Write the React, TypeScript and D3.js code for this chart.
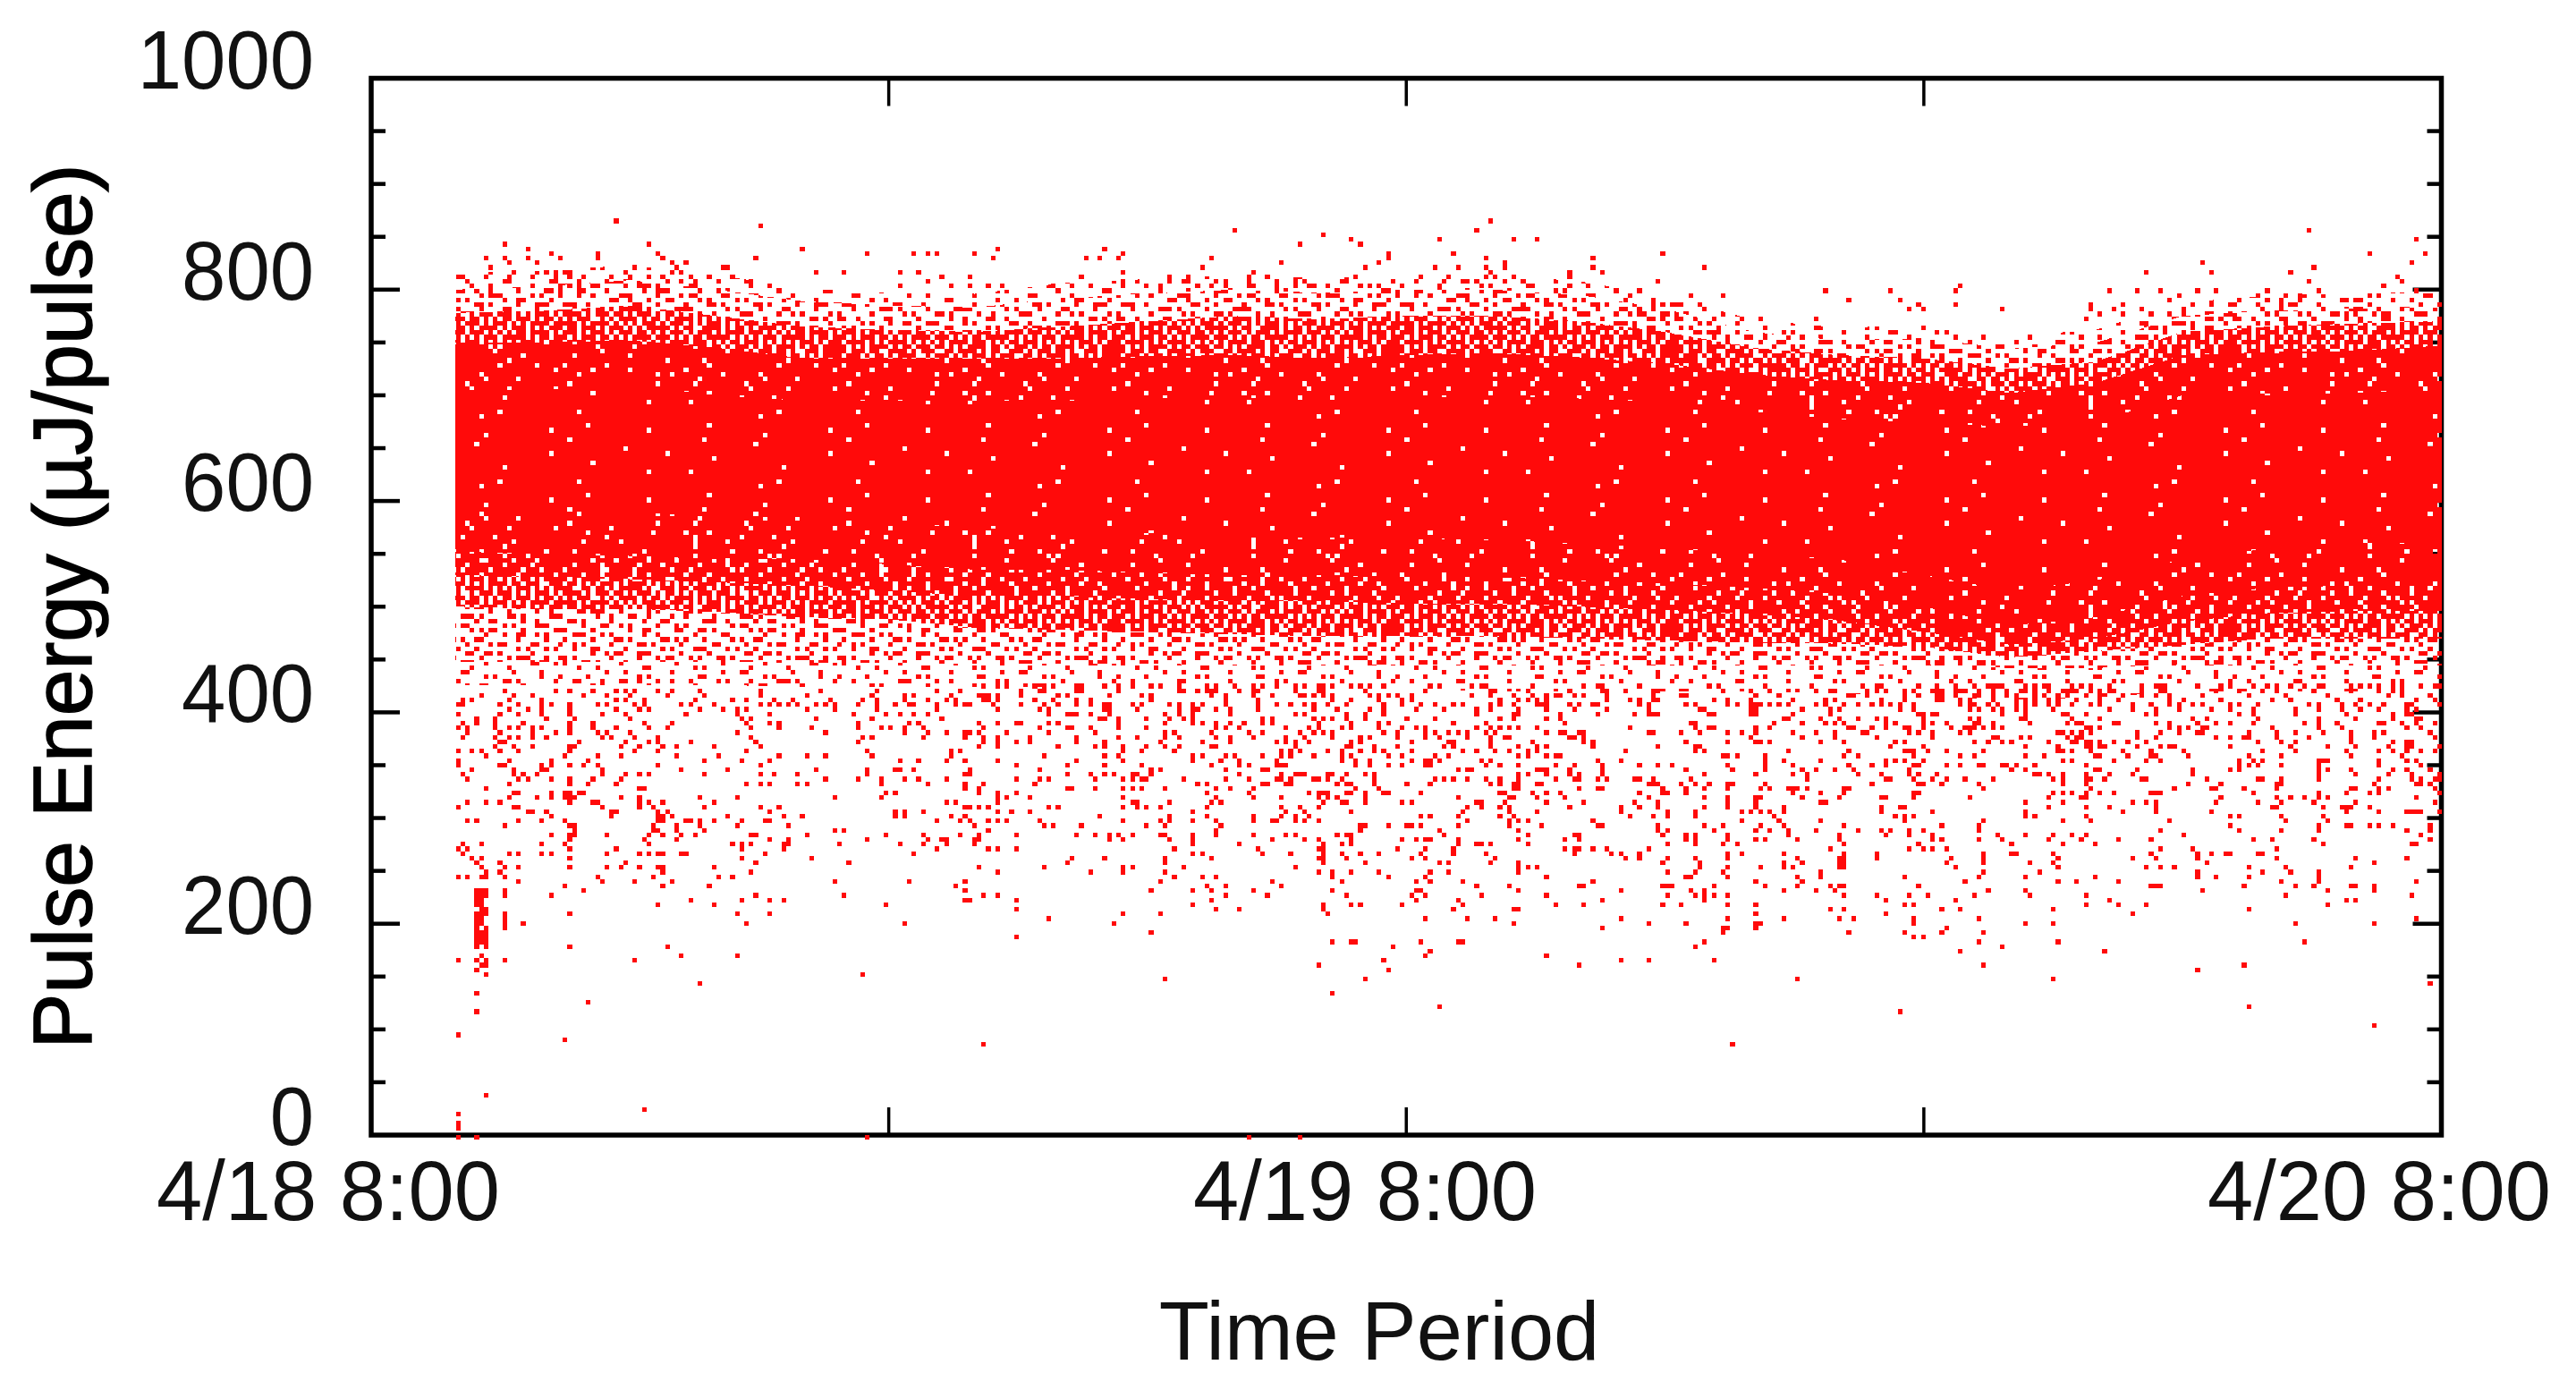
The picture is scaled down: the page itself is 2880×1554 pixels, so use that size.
import React, { useMemo } from "react";
import * as d3 from "d3";

const yTicksMajor = [0, 200, 400, 600, 800, 1000];
const yTicksMinor = [50, 100, 150, 250, 300, 350, 450, 500, 550, 650, 700, 750, 850, 900, 950];
const xTicks = [12, 24, 36];
const xLabels = ["4/18 8:00", "4/19 8:00", "4/20 8:00"];

// envelope of the dense cloud, per time step (hours since 4/18 8:00)
const hours = [1.95, 4, 6, 8, 10, 12, 14, 16, 18, 20, 22, 24, 26, 28, 30, 32, 34, 36, 38, 40, 42, 44, 46, 48];
const fringeCap = [816, 818, 823, 814, 801, 797, 796, 806, 810, 814, 811, 814, 814, 808, 794, 772, 764, 766, 756, 762, 788, 794, 797, 798];
const fringeTop = [800, 803, 809, 800, 789, 785, 783, 792, 796, 800, 797, 800, 800, 795, 782, 760, 752, 754, 744, 750, 775, 780, 782, 783];
const upperMid = [778, 780, 785, 775, 765, 762, 760, 765, 770, 775, 772, 775, 775, 770, 760, 745, 738, 735, 725, 732, 760, 765, 768, 770];
const coreTop = [750, 750, 752, 745, 735, 735, 735, 735, 737, 738, 735, 738, 740, 736, 730, 720, 714, 712, 702, 712, 738, 741, 742, 747];
const innerTop = [705, 705, 710, 700, 695, 695, 695, 695, 697, 698, 695, 697, 700, 697, 693, 685, 677, 675, 670, 675, 700, 702, 702, 705];
const innerBot = [590, 590, 590, 585, 585, 580, 575, 570, 570, 565, 565, 565, 563, 560, 555, 550, 545, 530, 515, 525, 545, 555, 560, 560];
const coreBot = [552, 550, 548, 545, 545, 540, 535, 535, 532, 530, 530, 528, 528, 525, 522, 518, 512, 500, 482, 490, 510, 518, 520, 520];
const lowHeavy = [530, 528, 526, 523, 520, 515, 510, 510, 507, 505, 505, 503, 503, 500, 497, 493, 487, 476, 464, 470, 486, 494, 496, 496];
const lowMid = [500, 498, 498, 495, 490, 488, 480, 478, 476, 474, 472, 472, 472, 470, 468, 466, 465, 462, 452, 458, 464, 470, 470, 470];
const lowEnd = [448, 448, 448, 448, 447, 447, 446, 446, 446, 445, 445, 445, 445, 445, 445, 445, 445, 445, 442, 442, 445, 446, 446, 446];
const lowCap = [426, 426, 426, 426, 424, 424, 424, 424, 422, 422, 422, 422, 420, 420, 420, 420, 418, 415, 412, 414, 420, 420, 420, 420];

// points read by eye from the crops: [energy, [hours...]]
type Row = [number, number[]];
const scatterTop: Row[] = [
  [868, [5.6, 25.9]], [864, [8.95]], [859, [20, 25.55, 44.85]], [855, [22]],
  [851, [22.7, 24.7, 26.4, 26.95, 47.4]], [846, [3, 6.4, 21.5, 22.9]], [842, [3.6, 9.9, 14.5, 17]],
  [838, [4.1, 5.2, 6.6, 11.5, 12.5, 12.9, 13.1, 13.9, 17.4, 23.5, 25, 29.85, 46.3, 47.6]],
  [833.5, [2.6, 3, 3.6, 4.35, 5.2, 6.7, 8.85, 14.4, 16.5, 16.8, 17.3, 19.45, 23.5, 25.75, 28.25]],
  [829, [3.2, 3.8, 6.9, 7.25, 21.05, 23.3, 26.2, 42.35, 47.3]],
  [825, [2.75, 6.05, 7, 8.15, 8.25, 19.2, 23, 24.6, 25.1, 25.75, 26.2, 28.3, 30.9, 44.95]],
  [820, [3.25, 4.25, 4.55, 6.95, 7.1, 10.25, 10.9, 12.25, 12.6, 17.4, 20.4, 25.9, 27.7, 28.45, 41.1, 42.6, 44.5]],
  [816, [2.65, 3.7, 4.2, 4.55, 6, 6.7, 7.35, 8.3, 13.2, 13.8, 16.45, 18.5, 18.9, 20.3, 20.75, 22.8, 26, 26.4, 27.7, 46.9]],
  [811.5, [4.1, 5.4, 7.15, 7.45, 8.75, 12.9, 17.4, 18.5, 19.55, 20.3, 21.4, 22.55, 24.15, 24.8, 25.55, 26.2, 26.65, 29.75, 44.85, 47.05]],
  [807, [2.75, 4.35, 4.55, 4.75, 5.85, 6.2, 6.4, 7.45, 12.25, 13.35, 13.8, 14.3, 14.6, 15.8, 16.15, 17.95, 19.1, 19.8, 20.3, 20.95, 21.4, 21.8, 22.9, 23.3, 25.65, 27.7, 28.15, 36.8, 46.65]],
  [803, [33.7, 35.2, 36.7, 40.2, 40.9, 41.4, 42.3, 42.7, 43.9, 45.15, 47.4, 29.4]],
  [798, [30.55, 31.25, 41.9, 43.65, 44.3, 44.7, 46.55]],
  [794, [34.2, 35.4, 41.7, 43.3, 44.7, 46, 46.1]],
  [789.5, [29.85, 30.3, 30.8, 35.85, 36.7, 39.8, 40.55, 42.2, 43.2, 43.65, 44.2]],
  [785, [29.3, 35.65, 35.95, 37.75, 39.8, 40.3, 41, 44.2, 46.05, 46.45]],
  [781, [29.1, 29.5, 29.85, 40, 40.55, 41.2, 41.7, 42, 43, 44.1, 44.85, 46, 46.6, 47.5]],
  [776.6, [31.75, 32.2, 33.45, 39.7]],
];
const scatterEarly: Row[] = [
  [430, [2, 3.2, 3.4, 4.8, 5.3, 5.7, 6.2, 6.6, 6.9, 7.4, 8.8, 9.4, 9.6, 9.8, 12.4, 13.1]],
  [421, [3, 4.2, 4.6, 5.1, 5.6, 5.8, 6.1, 6.6, 6.9, 7.6, 9, 10.4, 11.7, 13.05, 13.6]],
  [417, [2.5, 3.3, 3.7, 4.9, 5.4, 6, 6.8, 7.7, 8.95, 10.05, 11.55, 12.3, 12.5, 13.4]],
  [413, [2.1, 2.3, 3.2, 3.9, 5.65, 5.85, 6.3, 7.45, 8.3, 8.65, 9.3, 9.7, 10.6, 11.3, 11.65, 12.3, 12.85, 13.25, 13.5]],
  [408.6, [2, 2.1, 2.9, 3.4, 3.9, 4.15, 4.5, 4.6, 5.15, 5.4, 6.1, 6.3, 7.1, 7.35, 7.9, 8.95, 9.2, 9.4, 9.6, 9.85, 10.25, 10.5, 10.7, 11.2, 11.65, 12.1, 12.4, 12.5, 13.05, 13.5, 13.7]],
  [404, [3.2, 3.6, 3.9, 4.6, 5.65, 6.2, 6.4, 7.55, 8.1, 8.45, 8.65, 10.05, 10.7, 11.65, 13.05]],
  [400, [2, 2.9, 3.4, 3.9, 4.6, 5.3, 5.85, 7.25, 8.45, 9.2, 11.1, 11.85, 12.2, 12.5, 12.85]],
  [395.5, [2.4, 2.8, 4, 4.7, 6, 8.55, 8.75, 10.25, 11.55, 13.15]],
  [391, [2.1, 2.4, 2.8, 3.5, 4.5, 5.1, 6.3, 6.9, 8.65, 9.2, 9.4, 11.2, 12.4, 12.6]],
  [386.6, [2, 2.2, 2.8, 3.2, 3.4, 3.7, 3.9, 4.6, 5.1, 5.65, 6.4, 6.8, 8.75, 9.4, 10.15, 11.2, 11.75, 11.95, 12.3, 12.7]],
  [382, [2.2, 2.9, 3.7, 4.25, 4.6, 5.2, 5.4, 6, 8.45, 10.5, 12.3, 12.85, 13.25, 13.7]],
  [378, [2.1, 2.8, 3.1, 3.4, 3.7, 4, 5.3, 5.5, 6.1, 6.6, 8.75, 11.3, 11.55, 12.7, 13.7]],
  [373.5, [2.9, 3, 4.8, 5.85, 6.4, 6.6, 7.35, 8.85, 11.2]],
  [369, [2.8, 3.3, 3.7, 4.5, 4.7, 5.75, 6.2, 6.7, 7.05, 7.9, 8.95]],
  [364.6, [2, 2.3, 2.5, 2.9, 3.4, 4.6, 6.1, 6.6, 8.65, 11.4, 13.35, 13.6]],
  [360, [2.6, 4.4, 5.2, 5.75, 7.05, 8, 9.4, 10.05, 10.5, 11.55, 13.35]],
  [356, [2, 3.2, 4.15, 5, 7.7, 8.55, 9.2, 12.2, 12.6, 13.25, 13.7]],
  [351.3, [2, 2.9, 3, 3.85, 4.15, 4.5, 4.9, 5.2, 6.6, 8.95]],
  [347, [2.3, 3.3, 3.9, 4, 5.3, 7.15, 8.2, 10.25, 11.4, 12.1, 12.2, 12.5]],
  [342.6, [2.1, 3.3, 3.5, 3.8, 5.3, 5.85, 6.2, 6.4, 7.7, 8.95, 9.3, 9.85, 11.4, 13.75]],
  [338, [2.2, 3.4, 3.6, 4.15, 4.5, 5.1, 5.75, 10.5, 11.2, 11.75, 12.3, 12.6, 13.25]],
  [334, [3.2, 4.5, 5, 5.65, 8.65, 8.95, 9.2, 9.85, 10.05, 11.75, 12.85, 13.7]],
  [329.7, [2.6, 6.2, 6.3, 13.7]],
  [325, [3.3, 3.4, 4.15, 4.4, 4.5, 4.8, 4.9, 11.85, 12.1]],
  [321, [3.2, 3.8, 4.15, 4.4, 4.5, 4.7, 5.75, 6.2, 7.55, 8.45, 10.7, 11.75]],
  [316.4, [2.2, 2.6, 2.9, 4.6, 5.1, 5.2, 6.2, 6.4, 6.7, 7.9, 13.25, 13.5]],
  [312, [2, 3.3, 3.4, 5.3, 6.2, 6.5, 7.7, 8.95, 9.4, 13.7]],
  [307.7, [3.6, 3.7, 4, 5.5, 5.65, 6.6, 6.8, 9.2, 12.1, 12.3, 12.7]],
  [303, [4.15, 5.5, 6.6, 6.7, 6.9, 8.2, 9.5, 9.95, 12.1, 12.3, 13.35, 13.7]],
  [299, [2.2, 2.4, 3.4, 3.9, 4.4, 6.6, 6.7, 7.25, 7.35, 7.55, 7.9, 8.55, 9.05, 9.2, 13.05, 13.6]],
  [294.4, [3, 4.6, 4.7, 6.5, 7.05, 7.55, 8.45, 9.6]],
  [290, [4.7, 6.5, 6.6, 7.05, 7.7, 10.7, 10.9]],
  [285.7, [4.15, 4.5, 4.6, 4.7, 5.4, 6.4, 6.7, 7.15, 7.45, 8.75, 8.85, 10.05, 11.85, 12.7, 13.6]],
  [281.5, [4.5, 4.6, 6.3, 7.05, 9.2, 9.6, 11.4, 12.85, 13.15, 13.25]],
  [277, [2.1, 2.5, 3.9, 4.4, 6.4, 8.3, 8.55, 8.75, 9.5, 9.6, 10.8, 12.2, 12.7, 13.25]],
  [272.7, [2, 2.2, 4.6, 5.65, 8.55, 9.5, 13.05]],
  [268, [2.1, 3.2, 3.4, 3.9, 4.15, 5.4, 6.2, 6.4, 6.6, 6.7, 7.15, 7.25, 9.05, 12.5]],
  [264, [2.3, 2.5, 4.6, 8.55, 10.15]],
  [259.5, [2.4, 2.9, 5.85, 8.85, 11]],
  [255, [2.5, 3, 3.4, 4.5, 5.4, 5.75, 6.2, 6.6, 6.7, 7.9]],
  [250.7, [2.6, 2.9, 6.7, 8.75]],
  [246.5, [2, 2.2, 2.5, 2.6, 3, 5.2, 6.5, 8, 8.3]],
  [242, [3.4, 5.3, 6.1, 6.9, 10.7, 12.4, 13.7]],
  [237.8, [4.4, 6.7, 7.8, 13.5]],
  [233.3, [2.4, 2.5, 2.6, 3, 4.9, 13.7]],
  [229, [2.4, 2.5, 2.6, 3, 4.15, 8.85, 10.9]],
  [224.5, [2.4, 2.5, 7.35, 8.55, 9.2, 9.5, 13.75]],
  [220, [2.4, 2.5, 6.6, 7.9, 11.85]],
  [215.8, [2.5, 2.6]],
  [211.6, [2.4, 2.5, 2.6, 3, 4.6, 8.45, 9.2]],
  [207, [2.4, 2.5, 3]],
  [202.5, [2.4, 2.5, 3, 3.5, 8.65, 12.3]],
  [198, [2.4, 2.6, 3]],
  [193.8, [2.4, 2.5, 2.6]],
  [189.6, [2.4, 2.5, 2.6]],
  [185, [2.4, 2.5, 2.6]],
  [180.5, [2.4, 2.6, 4.5, 6.8]],
  [171.8, [2.5, 7.15, 8.45]],
  [167.6, [2, 2.4, 2.6, 3, 6.1]],
  [163, [2.5, 2.6]],
  [159, [2.4]],
  [154, [2.6, 11.3]],
  [145.6, [7.55]],
  [137, [2.4]],
  [128, [5]],
  [119, [2.4]],
  [97, [2]],
  [93, [4.4]],
  [40.5, [2.6]],
  [27.5, [6.3]],
  [23, [2]],
  [15, [2]],
  [11, [2]],
  [7, [2]],
  [2, [2, 2.43, 11.5, 20.3, 21.5]],
];
const scatterMid: Row[] = [
  [426, [14.2, 14.45, 14.65, 15.3, 15.5, 15.8, 16.3, 16.4, 17, 17.3, 17.65, 18.7, 19.55, 19.95, 20.65, 20.9, 21.4, 21.95, 22.25, 22.7, 22.9, 23.1, 23.45, 25.45, 25.7]],
  [421, [15.05, 15.4, 15.6, 16.35, 16.45, 17.3, 18.7, 18.8, 19.15, 19.35, 19.45, 19.55, 20.1, 20.45, 20.55, 21.4, 21.95, 22.05, 24.4, 23, 25.9, 26]],
  [417, [14, 14.1, 14.3, 14.5, 15.05, 15.9, 16.05, 17.1, 17.85, 18.05, 19.45, 19.8, 20.45, 20.85, 21.5, 21.6, 21.8, 22.05, 22.25, 23.1, 23.3, 23.55, 23.75, 24.05, 25.45, 25.9]],
  [413, [14.1, 14.3, 14.5, 15.3, 15.8, 16.35, 16.6, 18.05, 19.8, 20.55, 22.25, 22.7, 23.3, 23.85, 24.05, 26.1]],
  [408.6, [13.8, 14.4, 15.05, 15.5, 15.9, 16.35, 16.6, 17, 17.1, 17.55, 17.85, 18.5, 18.7, 19.05, 19.25, 19.8, 20.55, 20.95, 21.3, 21.6, 21.8, 22.15, 22.55, 23.45, 23.85, 24.3, 24.6, 25.05, 25.25, 25.9, 26.1]],
  [404, [14.5, 15.4, 15.7, 16.9, 17.1, 17.75, 18.7, 18.95, 19.15, 19.55, 19.9, 20.55, 21.8, 22.35, 23.1, 23.45, 24.2, 24.8, 25.6, 25.9]],
  [400, [15.7, 16.05, 16.15, 16.35, 16.6, 17.1, 18.3, 18.7, 19.05, 19.9, 21.4, 21.6, 22.55, 23, 23.45, 25.6]],
  [395.5, [16.8, 17, 17.3, 17.95, 18.5, 18.8, 19.05, 20.65, 20.85, 21.8, 22.05, 22.25, 22.55, 23, 23.95, 24.6, 26.1]],
  [391, [14, 14.5, 14.85, 15.05, 15.7, 15.9, 17.3, 18.3, 18.95, 19.25, 19.55, 19.9, 20.2, 20.65, 20.85, 21.95, 22.7, 23.3, 23.55, 25.05, 25.8]],
  [386.6, [14.2, 15.4, 16.05, 16.25, 16.6, 17.3, 17.95, 19.55, 19.8, 20.1, 21.2, 21.7, 21.95, 22.45, 22.7, 23.3, 23.85, 24.2, 24.4, 25.6, 25.9, 26.1]],
  [382, [13.8, 14, 14.65, 15.7, 16.7, 18.4, 18.6, 19.45, 20.3, 20.65, 21.5, 21.8, 22.05, 22.25, 23.45, 23.75, 24.4, 24.6, 24.95, 25.15, 25.35, 25.8, 26]],
  [378, [14.1, 14.45, 15.2, 16.35, 17.3, 17.75, 18.4, 18.7, 19.55, 19.9, 20.45, 21.2, 21.6, 22.25, 22.9, 23.1, 23.75, 24.4, 24.7, 25.35, 25.9]],
  [373.5, [14.1, 14.5, 14.85, 15.2, 16.35, 16.9, 17, 18.2, 19.25, 19.9, 20.95, 21.2, 21.4, 21.7, 22.7, 22.9, 24.05, 24.95, 25.05, 25.9]],
  [369, [14, 14.5, 15.9, 16.7, 16.9, 17.4, 17.95, 18.4, 18.7, 19.45, 19.55, 21.4, 22.55, 22.7, 23.2, 23.75, 24.8, 25.05, 25.9]],
  [364.6, [17.4, 17.85, 18.6, 21.05, 21.3, 21.5, 22.15, 22.45, 22.9, 23.2, 23.45, 24.05, 25.25, 25.6, 26]],
  [360, [15.6, 16.9, 17.3, 19.05, 19.25, 19.8, 20, 20.65, 21.05, 21.3, 21.8, 22.45, 22.7, 23.55, 23.85, 24.6, 24.95]],
  [356, [14.5, 16.35, 17.4, 19.05, 19.7, 20.1, 20.95, 22.45, 22.8, 23.1, 24.05, 24.4, 24.5, 24.7, 25.7, 25.9]],
  [351.3, [14.85, 16.05, 16.9, 17.85, 19.45, 20.1, 20.3, 20.95, 21.05, 21.2, 22.8, 23.1, 23.55, 23.85, 24.4, 24.5, 25.8, 26.1]],
  [347, [13.8, 15.4, 18.05, 18.2, 19.8, 20.65, 20.75, 25.15, 25.35, 25.45]],
  [342.6, [13.8, 16.05, 16.6, 16.9, 17.2, 17.65, 17.75, 18.05, 20.1, 21.05, 21.4, 21.5, 21.6, 22.15, 22.25, 22.55, 23, 23.2]],
  [338, [14.85, 15.4, 15.7, 16.7, 17.4, 17.55, 17.85, 17.95, 18.8, 19.8, 20.3, 20.95, 21.05, 21.3, 21.8, 21.95, 22.15, 22.45, 23.2, 24.6, 24.8, 25.05, 25.35, 25.8, 26.1]],
  [334, [14.2, 15.3, 19.15, 19.35, 20.65, 20.75, 21.2, 21.3, 22.35, 22.55, 22.7, 23.2, 23.95, 24.5, 25.9, 26.1]],
  [329.7, [14, 16.05, 16.15, 16.7, 17.4, 17.65, 17.85, 18.3, 18.4, 19.55, 19.9, 20.45, 22.8, 23.3]],
  [325, [14, 14.5, 14.85, 19.35, 20.3, 21.7, 21.95, 22.05, 22.15, 22.55, 22.7, 23, 23.45, 23.55, 24.3, 26.1]],
  [321, [14.45, 14.65, 15.2, 17.4, 19.55, 20.45, 21.05, 21.95, 22.15, 22.35, 23, 25.15]],
  [316.4, [14.45, 17.65, 17.75, 18.5, 19.45, 19.7, 22.05, 22.45, 22.55, 23, 23.85, 24.05, 25.6, 25.7]],
  [312, [13.8, 14, 14.3, 15.7, 15.9, 17.4, 17.75, 17.95, 18.2, 19.35, 21.05, 21.5, 21.95, 25.35, 25.7, 26.1]],
  [307.7, [14.45, 14.5, 14.75, 15.2, 18.95, 19.05, 21.2, 21.6, 22.7, 25.25]],
  [303, [16.8, 18.5, 19.35, 20.45, 21.05, 21.4, 21.7, 24.3, 24.5, 25.15, 26.1]],
  [299, [13.8, 14.3, 14.45, 14.65, 15.4, 17.4, 18.2, 18.5, 19.05, 19.55, 20.45, 20.85, 20.95, 21.4, 21.6, 21.95, 25.35]],
  [294.4, [13.9, 15.6, 15.8, 16.45, 17.95, 18.4, 19.7, 22.9, 23, 23.55, 23.95, 24.05, 24.3, 25.15]],
  [290, [14.3, 19.55, 22.9, 24.7]],
  [285.7, [14, 14.95, 16.35, 16.7, 17.1, 17.3, 17.55, 18.2, 18.3, 19.05, 19.55, 20.45, 21.2, 21.4, 22.35, 22.55, 22.7, 24.8]],
  [281.5, [13.9, 14, 17.1, 17.4, 18.5, 18.95, 20.85, 21.6, 21.95, 22.7, 23.85, 24.2, 24.4, 24.5, 25.15]],
  [277, [13.9, 19.05, 20.1, 22.05, 22.45, 22.7, 25.15, 25.6, 25.7, 25.9]],
  [272.7, [14.3, 14.5, 14.85, 18.6, 20.55, 21.95, 22.05, 23.75, 24.4, 25.05]],
  [268, [19.05, 19.25, 20.65, 21.3, 22.05, 22.45, 22.9, 23.3, 24.3, 25.05, 25.8]],
  [264, [16.15, 16.9, 18.4, 19.45, 21.95, 22.05, 22.55, 24.05, 24.4, 26]],
  [259.5, [16.05, 18.4, 22.05, 23, 24.7, 24.95, 25.9]],
  [255, [14, 15.5, 17.4, 17.65, 18.8, 21.4]],
  [250.7, [14.5, 16.6, 17.4, 18.4, 21.95, 22.25, 22.7, 23.3, 24.5, 24.95]],
  [246.5, [18.6, 19.25, 19.55, 22.25, 23.55, 24.4]],
  [242, [18.2, 20.85, 22.45, 24.2, 24.5, 25.25]],
  [237.8, [19.35, 19.8, 21.05, 25.6]],
  [233.3, [18.05, 19.05, 19.45, 20.45, 22.25, 24.2, 24.3]],
  [229, [14.1, 14.5, 19.8, 20.75, 22.55, 24.05, 24.4, 25.7]],
  [224.5, [13.8, 14.95, 19.45, 24.2, 25.15]],
  [220, [19.05, 22.05, 22.7, 22.9, 23.85, 25.25]],
  [215.8, [14.85, 19.55, 20.1, 22.05, 25.05]],
  [211.6, [17.4, 18.2, 22.15]],
  [207, [15.7, 24.4, 25.35, 26]],
  [202.5, [17.2]],
  [193.8, [18.05]],
  [189.6, [14.85]],
  [185, [22.25, 22.7, 22.8, 24.3, 25.15, 25.25]],
  [180.5, [23.65]],
  [176, [24.5]],
  [171.8, [24.4]],
  [167.6, [23.45]],
  [163, [21.95]],
  [159, [23.55]],
  [150, [18.4, 23]],
  [137, [22.25]],
  [123.6, [24.7]],
  [88.6, [14.2]],
];
const scatterLate: Row[] = [
  [421.5, [26.75, 27.7, 28.45, 28.65, 29, 29.65, 29.75, 31.25, 31.9, 32.4, 33.5, 33.8, 34.65, 34.9, 35.5, 35.75]],
  [417, [26.4, 26.85, 27.25, 27.4, 27.5, 27.8, 28.1, 28.55, 29.65, 30.3, 30.4, 32, 32.1, 32.6, 34.25, 34.35, 34.65, 35.5, 35.85]],
  [413, [26.5, 26.75, 26.95, 27.15, 28.55, 29.1, 29.4, 29.65, 29.75, 31.1, 31.35, 31.9, 32.95, 33.7, 33.9, 35, 35.5]],
  [408.6, [26.4, 26.95, 27.05, 27.25, 27.7, 27.9, 28.25, 28.35, 29.3, 29.55, 30.4, 30.6, 31.35, 31.65, 31.9, 32, 32.2, 32.4, 32.6, 32.85, 33.5, 33.7, 34.1, 34.45, 34.75, 35, 35.2, 35.4, 35.75]],
  [404, [26.6, 27.25, 27.8, 28.55, 29.55, 30.8, 30.9, 31.9, 32, 33.15, 33.8, 34, 35.4, 35.75]],
  [400, [26.5, 26.4, 27.5, 28.35, 29.2, 29.55, 29.65, 29.75, 31, 31.1, 31.9, 32, 32.95, 33.8, 35.85, 35.95]],
  [395.5, [26.4, 27.15, 27.25, 27.5, 32.75, 32.85, 33.6, 34, 34.45, 34.9, 35.1, 35.95]],
  [391, [27.6, 30.5, 30.7, 32.5, 33.15, 33.7, 33.9, 34.1, 35.1, 35.3, 35.95]],
  [386.6, [26.3, 26.6, 26.95, 29.1, 30.6, 31, 31.1, 32.1, 32.4, 34.25, 34.35, 34.75, 35.1, 35.5, 35.65, 35.95]],
  [382, [27.15, 27.5, 27.6, 28, 28.1, 29.55, 29.65, 30.3, 30.8, 31.35, 31.75, 32, 32.95, 33.4, 33.5, 33.9, 34.55, 34.65, 35.65, 35.85]],
  [378, [26.2, 26.3, 27.7, 27.8, 28.1, 31.9, 33.15, 33.9, 34.9]],
  [373.5, [26.85, 28.1, 28.25, 30.4, 31.35, 32, 32.1, 32.2, 32.4, 33.6, 34.1, 35.3, 35.5]],
  [369, [26.5, 26.6, 26.95, 27.15, 28.25, 29.75, 30.6, 30.8, 35.2, 35.95]],
  [364.6, [26.3, 26.75, 26.95, 29, 30.6, 30.9, 32.85, 34.25, 35.5, 35.65, 35.75]],
  [360, [26.6, 26.75, 27.15, 27.4, 27.5, 31.25, 31.35, 31.65, 32.3, 34.1, 34.45, 35.75]],
  [356, [28.35, 28.9, 32.3, 32.75, 33.6, 35.1, 35.3, 35.5, 35.95]],
  [351.3, [26.6, 27.4, 27.8, 28.45, 29.3, 29.75, 30.15, 31.45, 32.3, 32.95, 34.25, 34.75, 35.1, 35.75, 35.85]],
  [347, [26.95, 27.05, 27.25, 27.7, 28.45, 30.4, 31.55, 32.3, 33.15, 33.5, 33.9, 34.35, 35.65]],
  [342.6, [26.5, 26.75, 27.15, 27.7, 28, 28.45, 30.9, 32.1, 32.95, 33.25, 34.45, 35, 35.65, 35.85]],
  [338, [26.6, 27.4, 27.8, 28, 28.35, 28.65, 29.2, 29.3, 29.65, 30.5, 33.25, 35.1, 35.2, 35.75]],
  [334, [26.4, 26.6, 26.95, 27.05, 29.55, 29.65, 29.75, 30.3, 30.7, 31, 31.35, 31.55, 32.3, 34.75, 35.85, 35.95]],
  [329.7, [26.4, 26.6, 27.9, 28.35, 28.45, 29.85, 30.4, 30.9, 31.45, 32.2, 32.4, 32.85, 32.95, 33.05, 33.25, 34.1, 34.25]],
  [325, [26.2, 26.85, 27.15, 27.5, 29.4, 29.85, 29.95, 30.4, 32.95, 33.6, 34.1, 35.75, 35.85]],
  [321, [26.3, 26.4, 26.95, 27.6, 29.55, 30.9, 31.35, 32.1, 32.2, 33.15, 34, 35, 35.1, 35.75]],
  [316.4, [26.2, 27.25, 28.1, 29.2, 29.75, 31.35, 32, 33.6, 33.7]],
  [312, [26.3, 27.7, 28.9, 29.3, 29.75, 30.9, 31.45, 32.1, 32.75, 35, 35.4, 35.5]],
  [307.7, [26.3, 26.95, 28.9, 30.05, 30.6, 31.75, 31.9, 32.2, 32.4, 32.75, 35]],
  [303, [26.4, 29.1, 29.65, 30.05, 30.7, 32.5, 35.3, 35.5, 35.75]],
  [299, [26.3, 26.6, 26.75, 28.25, 31.75, 32.6, 33.6, 35.5]],
  [294.4, [26.3, 27.05, 28.35, 28.45, 29.75, 30.9, 31.25, 32.2, 32.75, 34.1]],
  [290, [26.6, 29.75, 30.05, 31.1, 32.1, 32.4, 32.85, 33.4, 34.45, 35, 35.2, 35.65, 35.95]],
  [285.7, [26.75, 27.8, 27.9, 29.85, 30.4, 30.7, 31.35, 32.85, 34, 35.1, 35.65]],
  [281.5, [26.6, 27.6, 28, 30.4, 30.6, 31.35, 31.45, 32.1, 32.3, 33.05, 34]],
  [277, [26.75, 30.05, 30.6, 30.7, 31.25, 31.65, 34.1, 35.85]],
  [272.7, [27.6, 27.8, 27.9, 28.25, 28.55, 29.55, 33.8, 35.65, 35.95]],
  [268, [27.8, 28.75, 28.9, 29.4, 31.35, 31.75, 32.75, 34.1, 34.9]],
  [264, [29, 29.3, 29.95, 30.6, 31.35, 33.05, 34, 34.1, 34.9]],
  [259.5, [26.5, 29.85, 30.8, 32.75, 33.15, 34, 34.1]],
  [255, [26.5, 26.75, 26.95, 30.8, 31.35, 32.2, 32.75, 32.95, 34, 34.1]],
  [250.7, [26.6, 30.05, 30.6, 31.25, 33.6]],
  [246.5, [27.25, 30.4, 30.5, 31.45, 33.05, 33.6, 35.5]],
  [242, [28.25, 32.1, 33.15]],
  [237.8, [26.3, 28, 28.1, 29.85, 29.95, 30.15, 31.1, 32.3, 33.05, 33.8, 34, 34.1, 35.85]],
  [233.3, [26.6, 28.9, 30.5, 30.9, 32.75, 33.4, 33.9]],
  [229, [27.15, 30.05, 30.6, 30.9, 31.1, 31.35, 34.1, 34.9, 35.65]],
  [224.5, [28.45, 30.9, 35.1]],
  [220, [27.4, 28.1, 29.85, 30.3, 31.45, 32.1, 35.5, 35.75]],
  [215.8, [26.4, 26.6, 33.8, 34.1]],
  [211.6, [32.1, 35.1]],
  [207, [28.9, 31.35, 32.75, 34, 34.35, 35.75]],
  [202.5, [26.4, 29.55, 30.4, 32, 32.2, 35.75]],
  [198, [28.45, 31.25, 31.35, 32]],
  [193.8, [31.25, 34.25, 35.5]],
  [189.6, [35.75, 35.95]],
  [185, [30.9]],
  [180.5, [30.7]],
  [171.8, [27.25]],
  [167.6, [28.9, 29.55, 31.1]],
  [163, [27.9]],
  [150, [33.05]],
  [119, [35.4]],
  [88.6, [31.55]],
];
const scatterEnd: Row[] = [
  [426, [36.25, 36.7, 37.1, 37.55, 37.75, 38.3, 38.5, 38.85, 39.35, 39.6, 40.2, 41, 41.3, 41.5, 42.8, 43.1, 43.55, 44.1, 44.5, 44.75, 45.15, 45.9, 46.1, 46.55, 46.85, 47.05, 47.75]],
  [421.5, [36.25, 36.7, 37.2, 37.55, 37.85, 38.3, 38.5, 38.85, 39.15, 39.35, 39.8, 40, 40.2, 41, 41.4, 41.5, 42.7, 43.25, 43.85, 44.1, 44.95, 45.9, 46.45, 46.85, 47]],
  [417, [36.25, 36.35, 36.7, 37.1, 37.55, 38.05, 38.5, 39.05, 39.25, 39.7, 40, 40.55, 41, 41.3, 41.6, 42.35, 43.45, 44.3, 45.35, 46.75, 47, 47.65]],
  [413, [36.25, 36.35, 36.8, 37, 37.55, 38.05, 38.3, 38.5, 38.85, 39.05, 39.45, 40, 40.45, 41.6, 41.95, 42.8, 44, 44.5, 45.5, 46.1, 47.4, 47.75]],
  [408.6, [36.8, 37, 37.1, 37.45, 37.65, 38.05, 38.3, 38.5, 38.85, 39.05, 39.35, 39.8, 40, 40.75, 41.2, 41.6, 41.85, 42.15, 42.35, 43, 43.25, 43.75, 44.85, 45.15, 45.6, 46, 46.25, 46.65, 47.1, 47.3, 47.85]],
  [404, [37, 37.2, 37.55, 37.75, 38.05, 38.3, 38.95, 40.2, 40.75, 41.3, 41.85, 42.6, 43, 43.55, 44.6, 45.15, 45.6, 46.1, 46.45, 47.1, 47.4]],
  [400, [35.95, 36.15, 36.25, 37.75, 38.3, 39.15, 39.25, 39.7, 41.1, 41.3, 43.25, 43.55, 44.6, 45.7, 46.85, 47.1, 47.3]],
  [395.5, [37, 37.2, 38.2, 38.3, 39.35, 40, 42.15, 42.5, 43.75, 46, 45.15, 46.85, 47.4, 47.5]],
  [391, [36.15, 36.45, 37.1, 37.2, 37.55, 38.4, 39.25, 39.45, 39.6, 40.35, 40.45, 41.3, 41.6, 42.25, 42.7, 43, 43.55, 44.75, 45.15, 45.5, 46.55, 46.65, 47, 47.4, 47.75]],
  [386.6, [36.6, 36.9, 37, 37.1, 37.3, 37.55, 37.75, 39.7, 39.8, 40, 41.6, 41.85, 42.05, 42.5, 42.35, 44, 45.15, 45.6, 47.2, 47.5]],
  [382, [36.15, 36.8, 37, 39.05, 39.15, 39.35, 39.6, 39.8, 40.85, 41.4, 41.85, 42.25, 42.35, 43.45, 44.1, 44.6, 45.25, 45.9, 46.35, 46.65, 47.65]],
  [378, [36.15, 37.55, 37.65, 38.2, 38.4, 39.25, 39.45, 39.6, 40.85, 41.3, 42.7, 43.1, 43.35, 43.45, 44.1, 44.85, 45.8, 46.35, 47.75]],
  [373.5, [37.1, 37.45, 37.75, 37.95, 38.8, 39.35, 39.45, 39.7, 39.8, 40, 40.35, 40.65, 41.1, 44.2, 44.6, 45.9, 43.75, 46.85, 47.2, 47.3]],
  [369, [38.3, 39.05, 39.7, 39.8, 40, 40.1, 40.85, 41.4, 41.6, 41.75, 43.1, 44.4, 45.35, 46, 46.75, 47.1, 47.3, 47.85]],
  [364.6, [36.05, 36.45, 37.3, 39.05, 39.15, 39.35, 39.8, 40.55, 41.2, 41.95, 43.85, 44.6, 45.7, 46.55, 46.85, 47.1, 47.2, 47.5, 47.75]],
  [360, [36.8, 37.1, 38.3, 38.7, 39.9, 40, 40.65, 41.2, 41.3, 42.05, 43.45, 44.2, 45.9, 47]],
  [356, [35.95, 39.15, 39.35, 40.35, 41.1, 41.4, 43.25, 43.55, 43.85, 45.05, 45.25, 45.35, 46.55, 47.1, 47.4]],
  [351.3, [36.45, 36.8, 37.2, 37.3, 37.75, 37.85, 38.05, 38.5, 39.7, 43.25, 43.45, 43.75, 44.2, 45.05, 46.55, 47.5]],
  [347, [37.95, 38.3, 39.9, 40, 40.85, 42.15, 43, 43.25, 45.05, 45.35, 45.8, 46.85, 47.1, 47.65]],
  [342.6, [36.25, 38.5, 38.6, 38.85, 39.15, 39.7, 40.2, 40.75, 42.15, 45.05, 46, 46.75, 47.3, 47.95]],
  [338, [36.15, 36.45, 36.9, 37.55, 38.95, 39.15, 39.7, 39.8, 40.1, 41, 41.1, 42.5, 43.65, 43.85, 44.2, 45.15, 46.55, 47.3, 47.5, 47.75, 47.95]],
  [334, [35.95, 36.35, 37.2, 39.15, 39.7, 42.1, 42.8, 44.1, 44.2, 46.35, 47.4, 47.5, 47.65]],
  [329.7, [37.3, 39.8, 41.75, 42.6, 42.7, 43.35, 44.1, 45.9, 46, 46.45, 46.75, 47.75]],
  [325, [38.95, 39.15, 39.35, 39.7, 40, 40.35, 41.2, 41.3, 41.4, 43.55, 45.05, 45.7, 46.25, 46.55, 47.95]],
  [321, [37, 38.85, 39.6, 39.7, 42.8, 44.1, 44.5, 44.75, 45.15, 45.35, 47.4]],
  [316.4, [38.3, 39.15, 40.75, 41.1, 41.3, 42.7, 43.65, 44.2, 44.95, 46, 47.75]],
  [312, [38.85, 39.7, 40.2, 41.3, 44, 44.1, 45.25, 45.6, 45.7, 45.9, 46.25]],
  [307.7, [36.15, 38.3, 40.55, 41.3, 42.6, 45.7, 46.55, 47.1, 47.3, 47.4, 47.5, 47.85]],
  [303, [38.3, 38.5, 39.7, 43.1, 43.25, 44.2, 45.25]],
  [299, [37.3, 39.15, 39.8, 41.6, 44.3, 45.35]],
  [294.4, [36.35, 37.2, 43, 45.15, 45.7, 45.8, 46.25, 46.45, 46.85, 47.65]],
  [290, [35.95, 37.2, 41.4, 43.25, 44.2, 45.15, 47.2, 47.65]],
  [285.7, [36.15, 37.65, 38.3, 38.95, 39.35, 39.7, 41.95, 47.5]],
  [281.5, [36.15, 36.35, 37.2, 37.75, 38.85, 39.6, 40.45, 41.2, 43.55, 44, 44.95, 47.65]],
  [277, [37.95, 39.15, 39.9, 45.25, 47.3, 47.4]],
  [272.7, [35.95, 36.15, 36.45, 41.4, 42.15, 44.1]],
  [268, [37.3, 37.95, 38.05, 38.95, 41.2, 42.25, 42.6, 42.9, 43.1, 43.75, 43.85]],
  [264, [36.55, 37.3, 39.05, 40.75, 41.3, 42.25, 44.1, 46, 47.2]],
  [259.5, [36.45, 37.3, 38.4, 38.95, 42.5, 46.35]],
  [255, [36.7, 39.05, 41.1, 41.4, 41.75, 43.45, 44.3, 45.9]],
  [250.7, [37.3, 38.6, 42.25, 43.85, 44.5, 45.15]],
  [246.5, [37.2, 38.3, 39.9, 42.25, 42.7, 43.45, 45.15]],
  [242, [36.9, 39.05, 39.45, 40.45, 44.2, 45.05, 47.4]],
  [237.8, [41.2, 41.3, 41.4, 43.35, 44.6, 44.95, 45.8, 46, 46.35]],
  [233.3, [37.45, 38.3, 42.35, 45.35, 46.35]],
  [229, [36.05, 37.1, 38.4, 39.7, 44.3, 47.3]],
  [224.5, [36.7, 40.2, 45.7, 46]],
  [220, [39.7, 40.45, 41.1, 45.35]],
  [215.8, [36.35, 36.8, 38.95, 43.45]],
  [211.6, [40.75]],
  [207, [37.2, 47.4]],
  [202.5, [38.3, 38.95, 44.6, 46.35]],
  [198, [36.45]],
  [193.8, [36.35, 37.3]],
  [189.6, [35.95]],
  [185, [37.2, 39.05, 44.75]],
  [180.5, [37.75]],
  [176, [36.8, 40.1]],
  [163, [37.3, 43.35]],
  [159, [42.25]],
  [150, [38.95]],
  [145.6, [47.65]],
  [123.6, [43.45]],
  [106, [46.35]],
];

// speckle textures typed by eye from the crops, standing in for the points too dense to read one by one
const tileHeavy = [
  "#######.####.######.#####.#######.##.######..#####.####.#####",
  "###.#####.#######.####.#######.#####.###.#######.#####.######",
  "#.#######..#####.#######.###.########.#.#####.######.###.####",
  "#####.###.######.##.#######.####.##########.#######.#######.#",
  "##.#######.####.#######..######.###.####.#######.####.#######",
  "######.#####.######.#######.###.#####.#######.######.###.####",
  "####.#######.##.###.#####.###.########.###.######.#######.###",
  "#########.####.######.###.######.#####.#######.##.#####.#####",
  ".######.#####.#####.########.####.#.#####.#########.####.####",
  "#####.##.#######.#####.####.########.#.######.####.########.#",
  "###.#######.####.###########.###.######.#####.#.#######.#####",
  "#######.#####.#########.##.######.####.#######.#####.##.#####",
  "##.#####.##########.####.#####.########.###.#######.#######.#",
  "#####.#####.#.#######.######.####.#######.#####.#.#####.#####",
  "#########.#####.###.#####.########.###.#########.####.#######",
];
const tileDense = [
  "##.###.##..####.#.###..##.####.#.##..###.#.###.##.#..###.###",
  "#.###.#.##.#.####..#.###.#.#.###.#.###..##.#.####.##.#.#.###",
  "#####..####.##.#.##.#.#.###..#.#####.#.##.###.#.#..####.##.#",
  ".#.###.##.#.#.###.######.##.#.###.#.#.##.#.#.#####.#.#.##.##",
  "##.#.####..###.#..#.#####.###.#..###.#.#.###.##.#.#.##.#.###",
  "#.##.#.#.###.#.####.#.#.#.#.#.####.#.###.#.#.####.##.###..##",
  "###..##.##.#.#####.#..###.##.###.#.##.#.####.#.#.#.###.#.#.#",
  ".####.#.###.##.#.###.#.##.#.#.###.###.#..#.###.###.#.#.###.#",
  "#.#.###..#.#.####.#.##.#.####.#.#.#.####.##.#.#.##.###.#.##.",
  "####.#.####.#.#.#.###.#.###.#.#.###.#.#.###.#.###.#.#.####.#",
  "#.##.###.#.###.#.#.#####.#.##..####.#.##.#.####.#.###.#.#.##",
  ".###.#.###.#.###.##.#.#.###.#.###.#.####.###.#.#.#.##.####.#",
  "##.#.###.##.#.#.####.###.#.#.##.#####.#.#.#.###.#####.#.##.#",
  "#.####.#.#.####.#.#.#.#.####.###.#.#.##.###.#.#.#.#.###.#.##",
  "##.#.#.####.#.##.###.##.#.#.####.##.#.###.#.##.####.#.##.###",
];
const tileSparse = [
  ".##...#...####...#.......##.#.....###...#...#..##.......#.##",
  "..#....##.....#..##..#.....##..#....#.....##.....###..#.....",
  "#...##....#.......#..###......#...#...##..#..#.....#.....##.",
  "#...#..#.....###.....#....#.##.....##......#.###......#.#...",
  "...........##..#...#...##.....#.#.....#.#.......#..##.....#.",
  ".###..#.........##...#.....#....##.#......##.#.....#...###..",
  "...#.....###.#.....#.....####.......#.#....#....##.....#....",
  "#......#......#.#....##.#.....#..#.....###.....#..#.#.....#.",
  "##..#.....##.....#......#..#....##..#.......#.........##.#..",
  ".....#.#...#..##...###.....#.#.......##..#.....###.#......#.",
  ".#.#.....#.......#.....##.......#.#.....#.##.#.....#..##....",
  "....##.###...#.....#.#.....##.#....##........#...#.....#..#.",
  "#.......#..#...##..#....#..#.....#.....###.#.....##.#.....##",
  "..##.#.....#......#...##.......###..#.....#..##.....#..#....",
  ".....#...##..#.#.....#...#.#.........#.##.......#.#....###..",
  "##.....#.......#..##.....##...##.#.......#.#.##.....#......#",
  "...###...#.#......#..#.......#.....##.......#...#..##..#.#..",
  ".#.....#....##.#......##.#.#...#.....#.#..##.......#.....#..",
  "#..#.#.....#.....##.#.....#......##.....#....#.##.....##....",
  "...#...##.....#.......#.#....###....#.#...#........#.#...#.#",
  ".......#..#.##...###......#.....#.......##..##.#......#.....",
  "##.#.......#.....#...#.##...#.#...##.#.....#.....#.###...#..",
  ".#...##.#.....#.......#......#.....#...###.....#......#.##..",
  "....#....#.##...##.#....##.#...##.....#.....#.#...##.......#",
  "#.#...#.........#.....#.....#.....#.#.....##...#..#...#.##..",
  "..##.....###.#.....##...#.....##.....#.#.......#......#....#",
  ".....#.#.....#...#.....##.#.#.....##......#.##...#.#.....#..",
  "#.#.......#.....##.#......#...#.#....###.....#.......##.#...",
  "...##.#.##...#.......#.#.....#.....#.....#.#...##.#.....#.##",
  ".#......#.....##.#.....###.......#...##.....#.....#..#......",
];
const tileThin = [
  "....#.........##.......#..........#.....#.......##.........#",
  ".#.......#..........#.......##...........#...#........#.....",
  ".........#.....#........#.........#.#..........#.........##.",
  "...##..........#...#.........#...........##.......#.........",
  ".......#..#............##.........#...#..........#.....#....",
  "#...........##....#..........#..........#...##.........#...#",
  "......#............#....#.#.........##...........#.........",
  "..#.......#..##..........#......#.........#...........##....",
  "........#.........#.#.........#.....#..........##.#.........",
  ".##..........#...........#.........#....##.........#.....#..",
  ".....#.#...........#..........##.........#.#.........#......",
  "..........#...##.......#.#..........#.........##........#.#.",
  "#.....#.........#..........#...#.........#........#.........",
  "...#.........#........##.........#....#.......#......##.....",
  ".........##......#............#........#..#..........#....#.",
  ".#...#...........#.#......#.........##........#.#...........",
  "........#..#.........#.........#.........#.........##...#...",
  "..##..........#..........##.#.......#........#.............#",
  "......#...........##..........#........#.#.......#.#........",
  "#.........#..#.........#.........#...........#.........#....",
  "....#.........#...........#.#........##..........#......#...",
  ".......##.........#.#.........#..........#.#.........#......",
  ".#...........#...........#.........#........#.........##...#",
  "....#...#.........##.........#.#.........#.......#..........",
  "..........#...#.........#..........#...##.........#.....#...",
  "#.....#..........#.#..........##............#.#.........#...",
  "...#.........##.........#.........#.#...........#..........#",
  ".......#.#.........#.........#..........#..##.......#.......",
  ".##...........#.........#.#.......#..........#.........#.#..",
  ".....#.....#.......#............#.....##.........#..........",
];
const tileSpeck = [
  "#########.##########################.#########.#############",
  "###.###########.####################################.#######",
  "#######################.#######.#################.##########",
  "#.########.#####################.##############.#######.####",
  "#######.#######.###########.###############################",
  "####.################.##.##########.#######.################",
  "##############################.#############.######.########",
  "##.##################.#######.##########.###################",
  "###########.#############################.#######.#########",
  "######.#############.######.####.###########################",
  "##########.##################.#########.######.#############",
  "#####.#######.###############.######.#############.#########",
  "#############################.##################.###########",
  "###.##############.##################.#####.#############.##",
  "########.#######.############.###############.#.#############",
];
const tileCore = [
  "############################################################",
  "######.#########################.###########################",
  "###################.######################################.#",
  "############################################.###############",
  "##.############################.############################",
  "##########################################.#################",
  "##############.#############################################",
  "#######################.##################################.##",
  "#################################.##########################",
  "#######.####################################################",
  "################################################.###########",
  "###################.########.###############################",
  "############################################################",
  "####.##########################################.############",
  "###########################################.################",
];

const xAxisTitle = "Time Period";
const yAxisTitle = "Pulse Energy (\u00b5J/pulse)";

// ---------- layout and style ----------
const RED = "#ff0a0a";
const CELL = 5.2;
const L = 415, R = 2729.5, T = 87.5, B = 1269;
const FONT = "'Liberation Sans', Arial, sans-serif";
const labelStarts = [175, 1334, 2468];

function Tile({ id, rows }: { id: string; rows: string[] }) {
  const d = rows
    .flatMap((row, r) =>
      row.slice(0, 60).split("").map((c, i) => {
        if (c !== "#") return "";
        const x0 = Math.round(i * CELL), x1 = Math.round((i + 1) * CELL);
        const y0 = Math.round(r * CELL), y1 = Math.round((r + 1) * CELL);
        return `M${x0} ${y0}H${x1}V${y1}H${x0}Z`;
      })
    )
    .join("");
  return (
    <pattern id={id} patternUnits="userSpaceOnUse" width={312} height={Math.round(rows.length * CELL)}>
      <path d={d} fill={RED} shapeRendering="crispEdges" />
    </pattern>
  );
}

export default function App() {
  const x = useMemo(() => d3.scaleLinear().domain([0, 48]).range([L, R]), []);
  const y = useMemo(() => d3.scaleLinear().domain([0, 1000]).range([B, T]), []);

  const band = (top: number[], bottom: number[]) =>
    d3
      .area<number>()
      .x((h) => x(h))
      .y0((_, i) => y(bottom[i]))
      .y1((_, i) => y(top[i]))(hours) as string;

  const dots = useMemo(() => {
    const all = [...scatterTop, ...scatterEarly, ...scatterMid, ...scatterLate, ...scatterEnd];
    return all
      .flatMap(([e, hs]) =>
        hs.map((h) => {
          const px = Math.round(x(h) / CELL) * CELL;
          const py = Math.round(y(e) / CELL) * CELL;
          return `M${px.toFixed(1)} ${py.toFixed(1)}h${CELL}v${CELL}h${-CELL}Z`;
        })
      )
      .join("");
  }, [x, y]);

  const tickW = 4.5;
  const bands: [number[], number[], string][] = [
    [fringeCap, fringeTop, "tThin"],
    [fringeTop, upperMid, "tSparse"],
    [upperMid, coreTop, "tDense"],
    [coreTop, innerTop, "tSpeck"],
    [innerTop, innerBot, "tCore"],
    [innerBot, coreBot, "tSpeck"],
    [coreBot, lowHeavy, "tHeavy"],
    [lowHeavy, lowMid, "tDense"],
    [lowMid, lowEnd, "tSparse"],
    [lowEnd, lowCap, "tThin"],
  ];
  return (
    <svg
      width={2880}
      height={1554}
      style={{ position: "absolute", left: 0, top: 0, background: "#fff" }}
      fontFamily={FONT}
    >
      <defs>
        <Tile id="tHeavy" rows={tileHeavy} />
        <Tile id="tDense" rows={tileDense} />
        <Tile id="tSparse" rows={tileSparse} />
        <Tile id="tThin" rows={tileThin} />
        <Tile id="tSpeck" rows={tileSpeck} />
        <Tile id="tCore" rows={tileCore} />
      </defs>

      <rect x={L} y={T} width={R - L} height={B - T} fill="none" stroke="#000" strokeWidth={5.5} />
      {yTicksMajor.filter((v) => v > 0 && v < 1000).map((v) => (
        <g key={v} stroke="#000" strokeWidth={tickW}>
          <line x1={L} x2={L + 32} y1={y(v)} y2={y(v)} />
          <line x1={R} x2={R - 32} y1={y(v)} y2={y(v)} />
        </g>
      ))}
      {yTicksMinor.map((v) => (
        <g key={v} stroke="#000" strokeWidth={tickW}>
          <line x1={L} x2={L + 16} y1={y(v)} y2={y(v)} />
          <line x1={R} x2={R - 16} y1={y(v)} y2={y(v)} />
        </g>
      ))}
      {xTicks.map((h) => (
        <g key={h} stroke="#000" strokeWidth={3.5}>
          <line x1={x(h)} x2={x(h)} y1={B} y2={B - 31} />
          <line x1={x(h)} x2={x(h)} y1={T} y2={T + 31} />
        </g>
      ))}

      {bands.map(([top, bottom, id]) => (
        <path key={id + top[0]} d={band(top, bottom)} fill={`url(#${id})`} shapeRendering="crispEdges" />
      ))}
      <path d={dots} fill={RED} shapeRendering="crispEdges" />

      {yTicksMajor.map((v) => (
        <text
          key={v}
          x={351}
          y={y(v) + 11}
          textAnchor="end"
          fontSize={93}
          fill="#111"
          textLength={String(v).length * 49.3}
          lengthAdjust="spacingAndGlyphs"
        >
          {v}
        </text>
      ))}
      {xLabels.map((s, i) => (
        <text
          key={s}
          x={labelStarts[i]}
          y={1364}
          fontSize={95}
          fill="#111"
          textLength={384}
          lengthAdjust="spacingAndGlyphs"
        >
          {s}
        </text>
      ))}
      <text x={1542} y={1520} textAnchor="middle" fontSize={92} fill="#111">
        {xAxisTitle}
      </text>
      <text
        transform="translate(102,678) rotate(-90)"
        textAnchor="middle"
        fontSize={93}
        fill="#000"
        stroke="#000"
        strokeWidth={1.5}
      >
        {yAxisTitle}
      </text>
    </svg>
  );
}
